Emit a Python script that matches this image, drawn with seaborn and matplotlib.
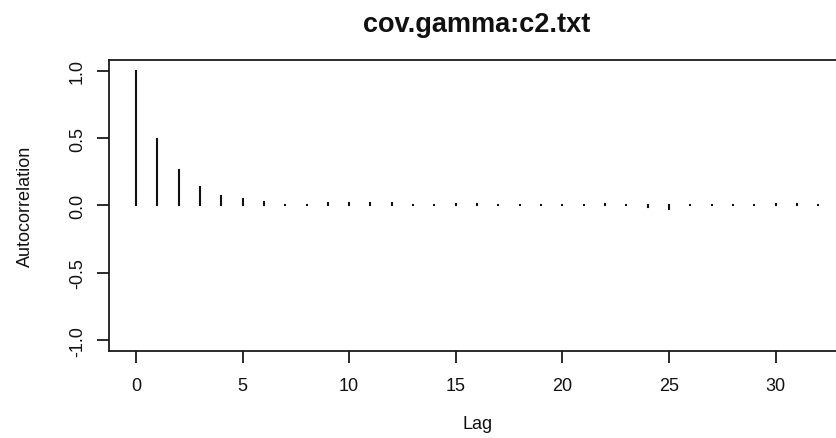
import matplotlib
matplotlib.use("Agg")
import matplotlib.pyplot as plt
import numpy as np
import pandas as pd
import seaborn as sns

# Autocorrelation estimates for the chain, lags 0..32
lags = list(range(33))
autocorr = [1.0, 0.49, 0.265, 0.137, 0.072, 0.05, 0.025, 0.004, 0.004,
            0.022, 0.022, 0.022, 0.022, 0.004, 0.004, 0.012, 0.012, 0.004,
            0.004, 0.004, 0.004, 0.004, 0.012, 0.004, -0.01, -0.028, 0.004,
            0.004, 0.004, 0.004, 0.012, 0.012, 0.004]
x_ticks = [0, 5, 10, 15, 20, 25, 30]
y_ticks = [-1.0, -0.5, 0.0, 0.5, 1.0]
y_tick_labels = ["-1.0", "-0.5", "0.0", "0.5", "1.0"]
title = "cov.gamma:c2.txt"

df = pd.DataFrame({"Lag": lags, "Autocorrelation": autocorr})

sns.set_theme(style="ticks")
plt.rcParams["font.family"] = ["Liberation Sans", "DejaVu Sans"]
plt.rcParams["axes.edgecolor"] = "#1a1a1a"
plt.rcParams["axes.linewidth"] = 1.3
plt.rcParams["path.simplify"] = False

fig = plt.figure(figsize=(8.36, 4.39), dpi=100)
ax = fig.add_axes([0.1300, 0.1982, 0.8813, 0.6629])

# stems from zero to each autocorrelation value ("h"-type plot)
for lag, val in zip(df["Lag"], df["Autocorrelation"]):
    ax.plot([lag, lag], [0, val], color="#111111", linewidth=1.5,
            solid_capstyle="projecting")
# the foot of every stem, so near-zero lags still show as a small dot
sns.scatterplot(data=df.assign(base=0.0), x="Lag", y="base", ax=ax,
                marker="s", s=3.5, color="#111111", linewidth=0,
                legend=False)

ax.set_xlim(-1.28, 33.28)
ax.set_ylim(-1.08, 1.08)
ax.set_xticks(x_ticks)
ax.set_xticklabels([str(t) for t in x_ticks])
ax.set_yticks(y_ticks)
ax.set_yticklabels(y_tick_labels, rotation=90, va="center")

ax.tick_params(axis="both", direction="out", length=8.8, width=1.3,
               color="#1a1a1a", labelsize=13, labelcolor="#111111")
ax.tick_params(axis="x", pad=10)
ax.tick_params(axis="y", pad=7.5)

ax.set_xlabel("Lag", fontsize=13, labelpad=15, color="#111111")
ax.set_ylabel("Autocorrelation", fontsize=13, labelpad=25, color="#111111")
ax.set_title(title, fontsize=19.5, fontweight="bold", pad=21, color="#111111")

for side in ["top", "right", "bottom", "left"]:
    ax.spines[side].set_visible(True)
ax.grid(False)

fig.savefig("out.png", dpi=100)
